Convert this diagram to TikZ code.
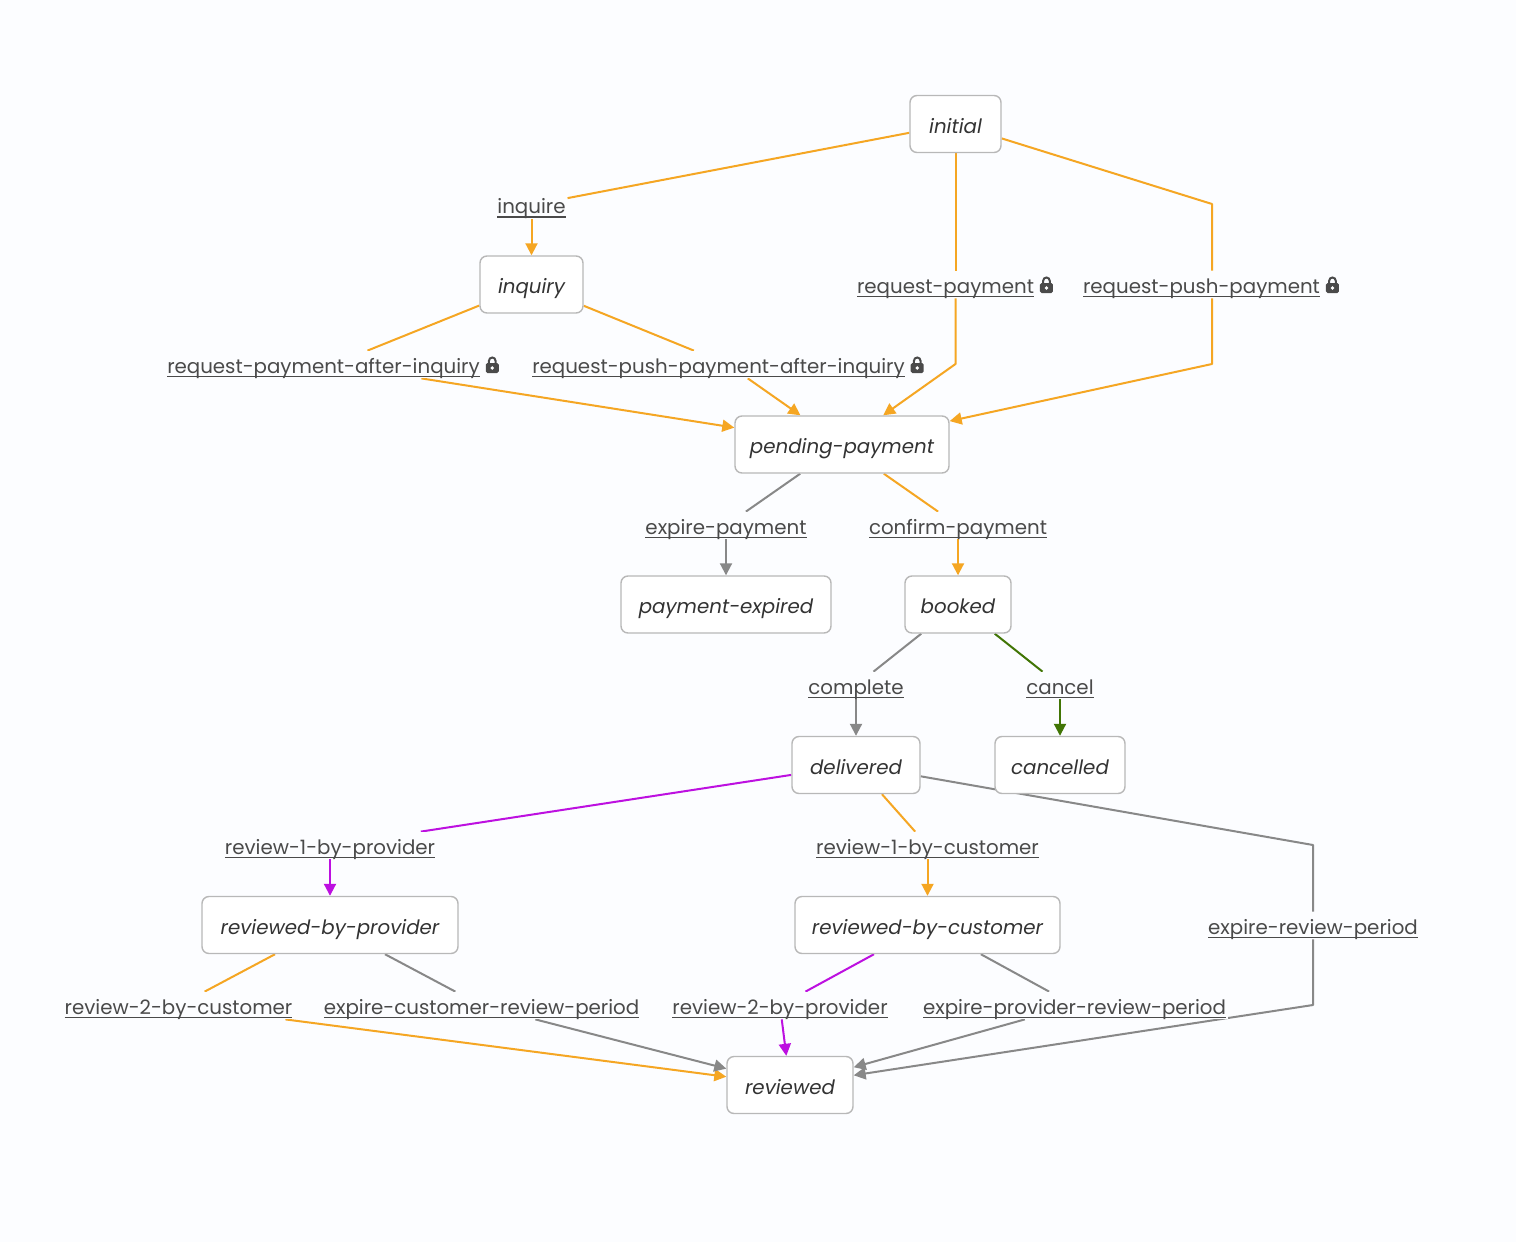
\documentclass[tikz,border=0pt]{standalone}
\usepackage{fontspec}
\setmainfont{Poppins}
\usetikzlibrary{arrows.meta,backgrounds}

\definecolor{pagebg}{HTML}{FCFDFF}
\definecolor{boxline}{HTML}{B8B8B8}
\definecolor{stink}{HTML}{333333}
\definecolor{trink}{HTML}{4A4A4A}
\definecolor{trorange}{HTML}{F5A623}
\definecolor{trgray}{HTML}{888888}
\definecolor{trpurple}{HTML}{BD10E0}
\definecolor{trgreen}{HTML}{417505}

\newcommand{\trtext}[1]{\setbox0=\hbox{#1}\rlap{\rule[-2.05pt]{\wd0}{0.8pt}}\box0}
\newcommand{\lockicon}{\hspace{3pt}\tikz [baseline=0pt, x=0.5pt, y=0.5pt] {
	\fill [trink, rounded corners=0.8pt] (0,0) rectangle (13,10);
	\draw [trink, line width=1pt] (3.2,9) -- (3.2,12.2) arc (180:0:3.3) -- (9.8,9);
	\fill [white] (6.5,5) circle [radius=1.8];
}}

\begin{document}
\begin{tikzpicture}[
  x=0.5pt, y=-0.5pt,
  stnode/.style={draw=boxline, line width=0.7pt, fill=white, rounded corners=3.5pt, minimum height=28.5pt, inner sep=0pt, text height=11.5pt, text depth=2.5pt, text=stink, font=\fontsize{9.9}{12}\selectfont\itshape},
  trlabel/.style={fill=pagebg, inner xsep=0.8pt, inner ysep=0pt, text height=11pt, text depth=2.5pt, text=trink, font=\fontsize{9.9}{12}\selectfont},
  flow/.style={line width=1pt, line join=round},
  flowarrow/.style={flow, -{Triangle[length=6pt, width=6pt]}},
]

\node [stnode, minimum width=45.5pt] (initial) at (955.5,124) {initial};
\node [stnode, minimum width=51.5pt] (inquiry) at (531.5,284.5) {inquiry};
\node [stnode, minimum width=107pt] (pendingpay) at (842,444.5) {pending-payment};
\node [stnode, minimum width=105pt] (payexpired) at (726,604.5) {payment-expired};
\node [stnode, minimum width=53pt] (booked) at (958,604.5) {booked};
\node [stnode, minimum width=64pt] (delivered) at (856,765) {delivered};
\node [stnode, minimum width=65pt] (cancelled) at (1060,765) {cancelled};
\node [stnode, minimum width=128pt] (revprovider) at (330,925) {reviewed-by-provider};
\node [stnode, minimum width=132.5pt] (revcustomer) at (927.5,925) {reviewed-by-customer};
\node [stnode, minimum width=63pt] (reviewed) at (790,1085) {reviewed};

\node [trlabel] (lbinquire) at (531.5,205) {\trtext{inquire}};
\node [trlabel] (lbreqpay) at (955,284.5) {\trtext{request-payment}\lockicon};
\node [trlabel] (lbreqpush) at (1211,284.5) {\trtext{request-push-payment}\lockicon};
\node [trlabel] (lbreqpayinq) at (333,364.5) {\trtext{request-payment-after-inquiry}\lockicon};
\node [trlabel] (lbreqpushinq) at (728,364.5) {\trtext{request-push-payment-after-inquiry}\lockicon};
\node [trlabel] (lbexpirepay) at (726,525.5) {\trtext{expire-payment}};
\node [trlabel] (lbconfirm) at (958,525.5) {\trtext{confirm-payment}};
\node [trlabel] (lbcomplete) at (856,685.5) {\trtext{complete}};
\node [trlabel] (lbcancel) at (1060,685.5) {\trtext{cancel}};
\node [trlabel] (lbrevoneprov) at (330,845.5) {\trtext{review-1-by-provider}};
\node [trlabel] (lbrevonecust) at (927.5,845.5) {\trtext{review-1-by-customer}};
\node [trlabel] (lbexpirerev) at (1313,925.5) {\trtext{expire-review-period}};
\node [trlabel] (lbrevtwocust) at (178.5,1005.5) {\trtext{review-2-by-customer}};
\node [trlabel] (lbexpirecust) at (481.5,1005.5) {\trtext{expire-customer-review-period}};
\node [trlabel] (lbrevtwoprov) at (780,1005.5) {\trtext{review-2-by-provider}};
\node [trlabel] (lbexpireprov) at (1074.5,1005.5) {\trtext{expire-provider-review-period}};

\coordinate (reqpaytop) at (955.5,204);
\coordinate (reqpaybend) at (955.5,364);
\coordinate (pushtop) at (1212,204);
\coordinate (pushbend) at (1212,364);
\coordinate (expiretop) at (1313,845);
\coordinate (expirebend) at (1313,1005);

\begin{scope}[on background layer]
	\fill [pagebg] (0,0) rectangle (1516,1242);

	\draw [flow, trorange] (initial) -- (lbinquire);
	\draw [flowarrow, trorange] (lbinquire) -- (inquiry);
	\draw [flow, trorange] (initial) -- (reqpaytop |- lbreqpay.north);
	\draw [flowarrow, trorange] (reqpaytop |- lbreqpay.south) -- (reqpaybend) -- (pendingpay);
	\draw [flow, trorange] (initial) -- (pushtop) -- (pushtop |- lbreqpush.north);
	\draw [flowarrow, trorange] (pushtop |- lbreqpush.south) -- (pushbend) -- (pendingpay);

	\draw [flow, trorange] (inquiry) -- (lbreqpayinq);
	\draw [flowarrow, trorange] (lbreqpayinq) -- (pendingpay);
	\draw [flow, trorange] (inquiry) -- (lbreqpushinq);
	\draw [flowarrow, trorange] (lbreqpushinq) -- (pendingpay);

	\draw [flow, trgray] (pendingpay) -- (lbexpirepay);
	\draw [flowarrow, trgray] (lbexpirepay) -- (payexpired);
	\draw [flow, trorange] (pendingpay) -- (lbconfirm);
	\draw [flowarrow, trorange] (lbconfirm) -- (booked);

	\draw [flow, trgray] (booked) -- (lbcomplete);
	\draw [flowarrow, trgray] (lbcomplete) -- (delivered);
	\draw [flow, trgreen] (booked) -- (lbcancel);
	\draw [flowarrow, trgreen] (lbcancel) -- (cancelled);

	\draw [flow, trpurple] (delivered) -- (lbrevoneprov);
	\draw [flowarrow, trpurple] (lbrevoneprov) -- (revprovider);
	\draw [flow, trorange] (delivered) -- (lbrevonecust);
	\draw [flowarrow, trorange] (lbrevonecust) -- (revcustomer);
	\draw [flow, trgray] (delivered) -- (expiretop) -- (lbexpirerev);
	\draw [flowarrow, trgray] (lbexpirerev) -- (expirebend) -- (reviewed);

	\draw [flow, trorange] (revprovider) -- (lbrevtwocust);
	\draw [flowarrow, trorange] (lbrevtwocust) -- (reviewed);
	\draw [flow, trgray] (revprovider) -- (lbexpirecust);
	\draw [flowarrow, trgray] (lbexpirecust) -- (reviewed);
	\draw [flow, trpurple] (revcustomer) -- (lbrevtwoprov);
	\draw [flowarrow, trpurple] (lbrevtwoprov) -- (reviewed);
	\draw [flow, trgray] (revcustomer) -- (lbexpireprov);
	\draw [flowarrow, trgray] (lbexpireprov) -- (reviewed);
\end{scope}

\end{tikzpicture}
\end{document}
